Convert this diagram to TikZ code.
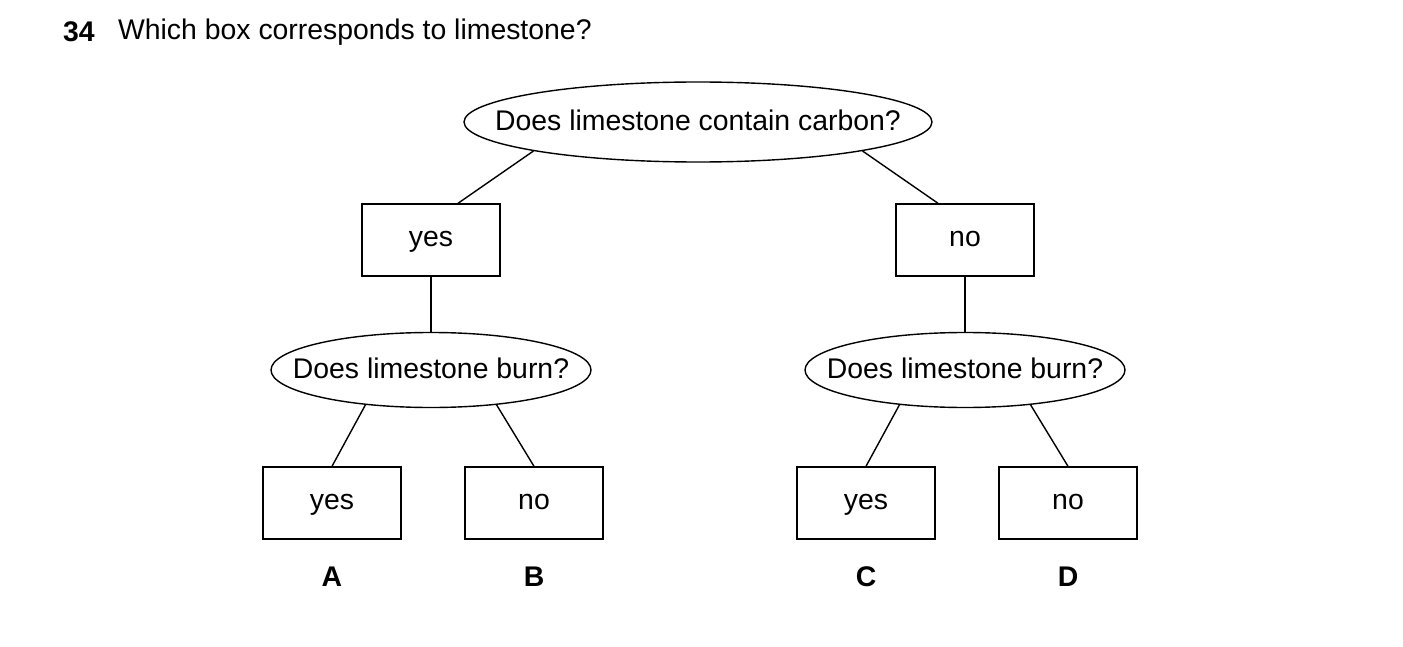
\documentclass[tikz,border=0pt]{standalone}
\usepackage{fontspec}
\setmainfont{Liberation Sans}
\usetikzlibrary{shapes.geometric,calc}
\newcommand{\ectext}[1]{\makebox[0pt]{\smash{\raisebox{-0.55ex}{#1}}}}
\begin{document}
\begin{tikzpicture}[x=0.5pt,y=-0.5pt,
  every node/.style={font=\fontsize{14.2}{17}\selectfont},
  ell/.style={draw,ellipse,line width=0.7pt,inner sep=0pt},
  box/.style={draw,rectangle,line width=0.7pt,minimum width=69pt,minimum height=36pt,inner sep=0pt,text height=1.5ex,text depth=0.25ex},
  lbl/.style={font=\bfseries\fontsize{14.2}{17}\selectfont},
  con/.style={line width=0.7pt}]
\useasboundingbox (0,0) rectangle (1403,647);
\node[lbl,anchor=west] (num) at (56,32) {34};
\node[anchor=west] (q) at (111,32) {Which box corresponds to limestone?};
\node[ell,minimum width=234pt,minimum height=40pt] (top) at (698,122) {\ectext{Does limestone contain carbon?}};
\node[box] (y1) at (431,240) {yes};
\node[box] (n1) at (965,240) {no};
\node[ell,minimum width=160pt,minimum height=37.5pt] (e1) at (431,370) {\ectext{Does limestone burn?}};
\node[ell,minimum width=160pt,minimum height=37.5pt] (e2) at (965,370) {\ectext{Does limestone burn?}};
\node[box] (A) at (332,503) {yes};
\node[box] (B) at (534,503) {no};
\node[box] (C) at (866,503) {yes};
\node[box] (D) at (1068,503) {no};
\node[lbl] (la) at (332,577) {A};
\node[lbl] (lb) at (534,577) {B};
\node[lbl] (lc) at (866,577) {C};
\node[lbl] (ld) at (1068,577) {D};
\draw[con] (top.190) -- ($(y1.north)+(27,0)$);
\draw[con] (top.350) -- ($(n1.north)+(-27,0)$);
\draw[con] (y1.south) -- (e1.north);
\draw[con] (n1.south) -- (e2.north);
\draw[con] (e1.208) -- (A.north);
\draw[con] (e1.332) -- (B.north);
\draw[con] (e2.208) -- (C.north);
\draw[con] (e2.332) -- (D.north);
\end{tikzpicture}
\end{document}
